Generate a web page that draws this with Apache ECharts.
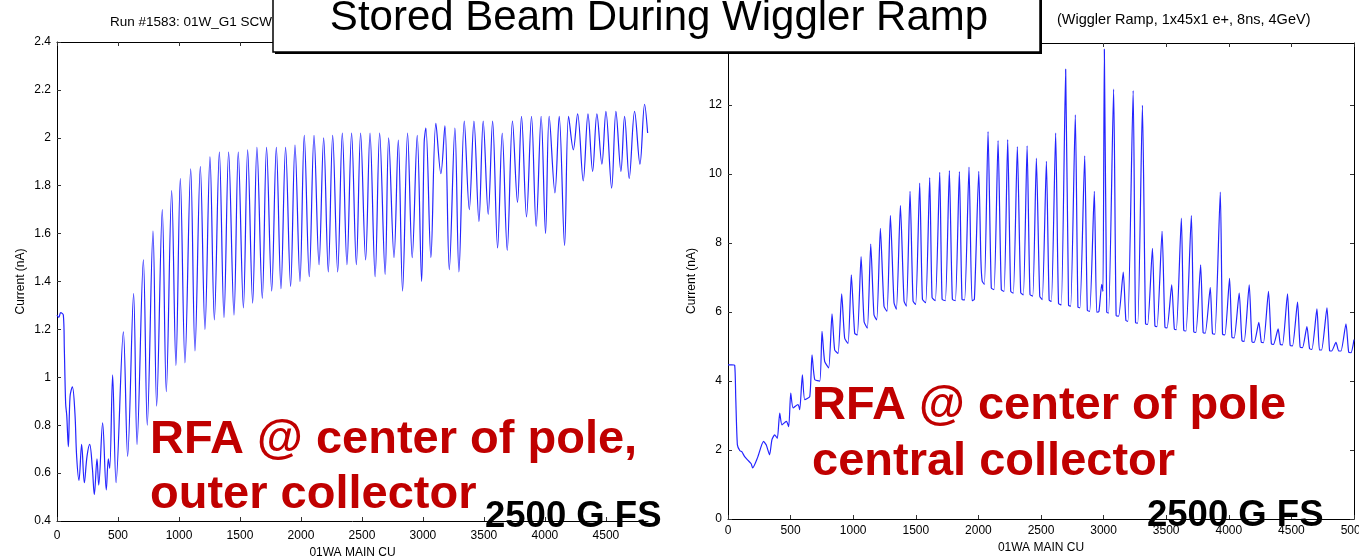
<!DOCTYPE html>
<html><head><meta charset="utf-8">
<script src="https://cdn.jsdelivr.net/npm/echarts@6/dist/echarts.min.js"></script>
<style>html,body{margin:0;padding:0;background:#fff}#c{width:1359px;height:557px}</style>
</head><body><div id="c"></div>
<script>
// ---------- data ----------
const mainTitle = 'Stored Beam During Wiggler Ramp';
const leftTitle = 'Run #1583: 01W_G1 SCW';
const rightTitle = '(Wiggler Ramp, 1x45x1 e+, 8ns, 4GeV)';
const xName = '01WA MAIN CU';
const yName = 'Current (nA)';
const leftNote = ['RFA @ center of pole,', 'outer collector'];
const rightNote = ['RFA @ center of pole', 'central collector'];
const fieldNote = '2500 G FS';

const leftXTicks = [0, 500, 1000, 1500, 2000, 2500, 3000, 3500, 4000, 4500];
const leftYTicks = [0.4, 0.6, 0.8, 1, 1.2, 1.4, 1.6, 1.8, 2, 2.2, 2.4];
const rightXTicks = [0, 500, 1000, 1500, 2000, 2500, 3000, 3500, 4000, 4500, 5000];
const rightYTicks = [0, 2, 4, 6, 8, 10, 12];

// left panel: [main coil current, RFA current nA]
const leftCurrent = [
 [0,1.26],[15,1.25],[30,1.27],[52,1.26],[60,1.12],[71,0.89],[80,0.84],[93,0.71],[107,0.92],[126,0.96],
 [147,0.85],[161,0.67],[180,0.57],[202,0.72],[224,0.56],[246,0.67],[268,0.72],[290,0.62],[306,0.51],[328,0.66],
 [342,0.55],[374,0.81],[404,0.53],[421,0.66],[432,0.62],[456,1.01],[484,0.56],[544,1.19],[579,0.67],[628,1.35],
 [656,0.72],[708,1.49],[740,0.80],[787,1.61],[817,0.88],[863,1.70],[896,0.94],[940,1.78],[975,1.05],[1011,1.83],
 [1049,1.06],[1096,1.87],[1131,1.11],[1175,1.88],[1213,1.20],[1254,1.92],[1290,1.24],[1331,1.94],[1369,1.25],[1407,1.94],
 [1451,1.26],[1486,1.94],[1528,1.29],[1563,1.95],[1604,1.31],[1639,1.96],[1683,1.33],[1718,1.96],[1760,1.36],[1798,1.96],
 [1836,1.37],[1874,1.96],[1915,1.38],[1951,1.97],[1992,1.40],[2027,2.01],[2068,1.42],[2107,2.01],[2148,1.47],[2186,2.00],
 [2224,1.44],[2260,2.01],[2301,1.44],[2339,2.02],[2377,1.47],[2415,2.02],[2454,1.47],[2489,2.02],[2530,1.49],[2566,2.02],
 [2608,1.42],[2645,2.02],[2690,1.43],[2719,2.00],[2763,1.50],[2798,1.99],[2833,1.36],[2874,2.02],[2912,1.50],[2953,2.01],
 [2989,1.40],[3010,1.98],[3024,2.04],[3065,1.50],[3106,2.06],[3147,1.85],[3180,2.05],[3216,1.45],[3262,2.04],[3295,1.44],
 [3339,2.07],[3380,1.70],[3418,2.07],[3459,1.65],[3494,2.07],[3535,1.68],[3571,2.07],[3612,1.54],[3650,2.02],[3691,1.53],
 [3734,2.07],[3775,1.73],[3808,2.09],[3849,1.67],[3890,2.09],[3928,1.63],[3969,2.09],[4005,1.60],[4035,2.09],[4082,1.77],
 [4117,2.09],[4161,1.55],[4194,2.09],[4233,1.95],[4268,2.10],[4314,1.82],[4353,2.10],[4391,1.86],[4426,2.10],[4467,1.89],
 [4500,2.11],[4547,1.79],[4582,2.11],[4623,1.86],[4653,2.09],[4691,1.83],[4735,2.11],[4779,1.89],[4817,2.14],[4842,2.02]
];

// right panel: [main coil current, RFA current nA]
const rightCurrent = [
 [0,4.47],[30,4.47],[53,4.46],[62,3.5],[75,2.15],[95,1.98],[110,1.95],[133,1.81],[160,1.70],[185,1.60],
 [197,1.48],[236,1.78],[284,2.25],[305,2.15],[332,1.86],[351,2.30],[373,2.44],[394,2.34],[413,3.07],[431,2.73],
 [466,2.83],[485,2.68],[501,3.65],[520,3.22],[559,3.32],[573,3.17],[594,4.18],[613,3.46],[653,3.55],[671,4.76],
 [693,4.04],[733,4.00],[751,5.44],[772,4.57],[804,4.38],[831,5.95],[852,4.90],[879,4.80],[908,6.53],[932,5.24],
 [959,5.09],[985,7.08],[1012,5.38],[1033,5.34],[1063,7.61],[1087,5.72],[1113,5.53],[1140,7.97],[1166,5.92],[1188,5.77],
 [1217,8.43],[1246,6.17],[1270,6.02],[1297,8.80],[1326,6.27],[1345,6.08],[1377,9.09],[1406,6.32],[1425,6.17],[1454,9.50],
 [1478,6.32],[1499,6.22],[1531,9.74],[1553,6.37],[1579,6.27],[1611,9.90],[1630,6.42],[1656,6.33],[1691,10.05],[1710,6.37],
 [1736,6.33],[1768,10.10],[1792,6.37],[1816,6.33],[1848,10.07],[1869,6.37],[1890,6.35],[1925,10.20],[1949,6.33],[1968,6.37],
 [2003,10.08],[2020,7.50],[2030,6.90],[2048,6.80],[2077,11.23],[2103,6.70],[2125,6.65],[2157,10.97],[2183,6.65],[2205,6.60],
 [2234,11.00],[2258,6.60],[2279,6.55],[2311,10.80],[2338,6.56],[2359,6.50],[2389,10.82],[2412,6.51],[2434,6.46],[2463,10.46],
 [2490,6.46],[2510,6.36],[2543,10.37],[2565,6.35],[2583,6.31],[2617,11.19],[2640,6.25],[2662,6.21],[2697,13.04],[2720,6.20],
 [2737,6.17],[2774,11.72],[2795,6.15],[2811,6.12],[2849,10.53],[2870,6.05],[2889,6.02],[2926,9.50],[2945,6.00],[2963,6.02],
 [2985,6.80],[2995,6.60],[3006,13.62],[3025,6.00],[3040,5.97],[3080,12.46],[3100,5.90],[3120,5.88],[3157,7.16],[3178,5.76],
 [3194,5.73],[3236,12.42],[3255,5.70],[3273,5.68],[3310,11.99],[3335,5.66],[3352,5.64],[3390,7.85],[3410,5.60],[3427,5.58],
 [3467,8.34],[3490,5.56],[3507,5.54],[3544,6.79],[3565,5.51],[3581,5.49],[3621,8.72],[3640,5.47],[3658,5.45],[3701,8.80],
 [3720,5.43],[3738,5.41],[3775,7.37],[3795,5.40],[3812,5.39],[3852,6.71],[3870,5.37],[3889,5.36],[3932,9.48],[3950,5.36],
 [3969,5.34],[4006,6.98],[4025,5.27],[4043,5.25],[4083,6.55],[4105,5.17],[4123,5.15],[4163,6.79],[4185,5.14],[4203,5.12],
 [4240,5.70],[4260,5.12],[4277,5.11],[4317,6.60],[4340,5.08],[4357,5.06],[4394,5.51],[4412,5.06],[4429,5.05],[4469,6.53],
 [4490,5.03],[4509,5.02],[4549,6.29],[4570,4.98],[4589,4.97],[4624,5.58],[4645,4.94],[4664,4.92],[4704,6.09],[4724,4.90],
 [4741,4.90],[4784,6.12],[4805,4.88],[4821,4.87],[4856,5.12],[4878,4.87],[4896,4.87],[4936,5.66],[4958,4.83],[4976,4.82],
 [5000,5.20]
];

// ---------- chart ----------
const FONT = '"Liberation Sans", Arial, Helvetica, sans-serif';
const chart = echarts.init(document.getElementById('c'), null, {renderer: 'canvas'});
const plain = v => String(v);

function xAxis(grid, max, ticks, top, name, margin) {
  return {
    type: 'value', gridIndex: grid, min: 0, max: max,
    position: top ? 'top' : 'bottom',
    axisLine: {show: true, onZero: false, lineStyle: {color: '#000', width: 1}},
    axisTick: {show: true, inside: true, length: 4, customValues: ticks, lineStyle: {color: '#333'}},
    axisLabel: top ? {show: false} : {show: true, customValues: ticks, formatter: plain, color: '#000', fontSize: 12, fontFamily: FONT, margin: margin},
    splitLine: {show: false},
    name: name || '', nameLocation: 'middle', nameGap: 22,
    nameTextStyle: {color: '#000', fontSize: 12, fontFamily: FONT}
  };
}
function yAxis(grid, min, max, ticks, right, name, showLine) {
  return {
    type: 'value', gridIndex: grid, min: min, max: max,
    position: right ? 'right' : 'left',
    axisLine: {show: showLine, onZero: false, lineStyle: {color: '#000', width: 1}},
    axisTick: {show: showLine, inside: true, length: 4, customValues: ticks, lineStyle: {color: '#333'}},
    axisLabel: right ? {show: false} : {show: true, customValues: ticks, formatter: plain, color: '#000', fontSize: 12, fontFamily: FONT, margin: 6},
    splitLine: {show: false},
    name: name || '', nameLocation: 'middle', nameGap: 30, nameRotate: 90,
    nameTextStyle: {color: '#000', fontSize: 12, fontFamily: FONT}
  };
}

const option = {
  animation: false,
  backgroundColor: '#fff',
  grid: [
    {left: 57, top: 42, width: 591, height: 479, outerBoundsMode: 'none', containLabel: false},
    {left: 728, top: 43, width: 626, height: 476, outerBoundsMode: 'none', containLabel: false}
  ],
  xAxis: [
    xAxis(0, 4845, leftXTicks, false, xName, 9),
    xAxis(0, 4845, leftXTicks, true),
    xAxis(1, 5000, rightXTicks, false, xName, 6),
    xAxis(1, 5000, rightXTicks, true)
  ],
  yAxis: [
    yAxis(0, 0.4, 2.4, leftYTicks, false, yName, true),
    yAxis(0, 0.4, 2.4, leftYTicks, true, '', false),
    yAxis(1, 0, 13.8, rightYTicks, false, yName, true),
    yAxis(1, 0, 13.8, rightYTicks, true, '', true)
  ],
  series: [
    {type: 'line', xAxisIndex: 0, yAxisIndex: 0, data: leftCurrent, showSymbol: false, smooth: 0.35,
     lineStyle: {color: '#2424ff', width: 1.2}, silent: true},
    {type: 'line', xAxisIndex: 2, yAxisIndex: 2, data: rightCurrent, showSymbol: false, smooth: 0.2,
     lineStyle: {color: '#2424ff', width: 1.2}, silent: true}
  ],
  graphic: [
    {type: 'text', z: 50, x: 110, y: 22, style: {text: leftTitle, font: '13.5px ' + FONT, fill: '#000', verticalAlign: 'middle'}},
    {type: 'text', z: 50, x: 1057, y: 20, style: {text: rightTitle, font: '14.5px ' + FONT, fill: '#000', verticalAlign: 'middle'}},
    {type: 'rect', z: 99, shape: {x: 275, y: -10, width: 767, height: 64}, style: {fill: '#000'}},
    {type: 'rect', z: 100, shape: {x: 273, y: -12, width: 767, height: 64}, style: {fill: '#fff', stroke: '#000', lineWidth: 1.5}},
    {type: 'text', z: 101, x: 659, y: 18, style: {text: mainTitle, font: '42px ' + FONT, fill: '#000', align: 'center', verticalAlign: 'middle'}},
    {type: 'text', z: 101, x: 150, y: 440, style: {text: leftNote[0], font: 'bold 47px ' + FONT, fill: '#c00000', verticalAlign: 'middle'}},
    {type: 'text', z: 101, x: 150, y: 495, style: {text: leftNote[1], font: 'bold 47px ' + FONT, fill: '#c00000', verticalAlign: 'middle'}},
    {type: 'text', z: 101, x: 812, y: 406, style: {text: rightNote[0], font: 'bold 47px ' + FONT, fill: '#c00000', verticalAlign: 'middle'}},
    {type: 'text', z: 101, x: 812, y: 462, style: {text: rightNote[1], font: 'bold 47px ' + FONT, fill: '#c00000', verticalAlign: 'middle'}},
    {type: 'text', z: 101, x: 485, y: 517, style: {text: fieldNote, font: 'bold 36.5px ' + FONT, fill: '#000', verticalAlign: 'middle'}},
    {type: 'text', z: 101, x: 1147, y: 516, style: {text: fieldNote, font: 'bold 36.5px ' + FONT, fill: '#000', verticalAlign: 'middle'}}
  ]
};
chart.setOption(option);
</script>
</body></html>
